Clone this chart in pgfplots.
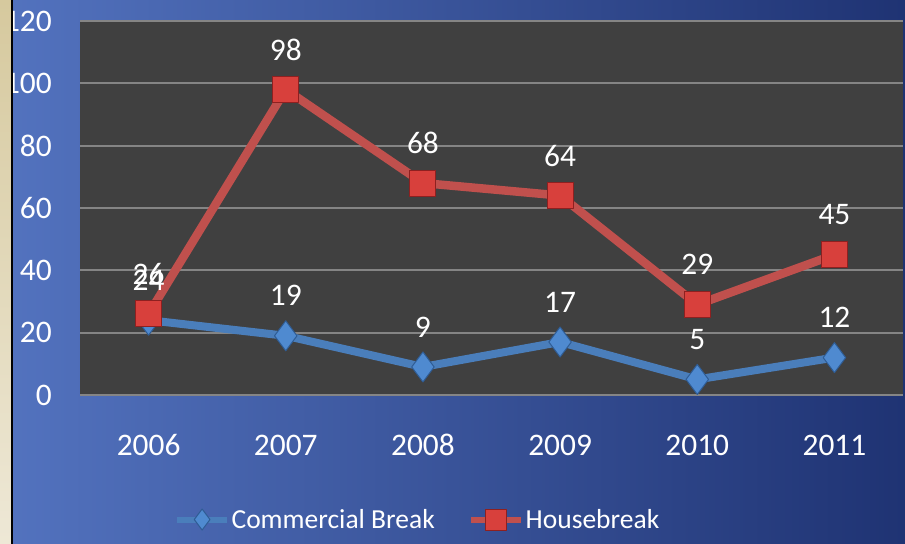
\documentclass[border=0pt]{standalone}
\usepackage{fontspec}
\setmainfont{Carlito}
\usepackage{pgfplots}
\pgfplotsset{compat=1.18}
\definecolor{bgL}{HTML}{5373BF}
\definecolor{bgR}{HTML}{1F3373}
\definecolor{plotbg}{HTML}{404040}
\definecolor{gridc}{HTML}{858585}
\definecolor{blueS}{HTML}{4A7EBB}
\definecolor{blueF}{HTML}{4F8AD0}
\definecolor{blueD}{HTML}{2F5C94}
\definecolor{redS}{HTML}{C0504D}
\definecolor{redF}{HTML}{D8403C}
\definecolor{redD}{HTML}{8E2020}
\definecolor{beigeT}{HTML}{D6C99E}
\definecolor{beigeB}{HTML}{EEE8D6}
\begin{document}
\begin{tikzpicture}[x=1bp,y=1bp]
\shade[left color=bgL, right color=bgR] (0,0) rectangle (905,544);
\begin{axis}[
  at={(80bp,149bp)}, anchor=south west,
  scale only axis, width=823bp, height=374bp,
  xmin=-0.5, xmax=5.5, ymin=0, ymax=120,
  xtick={0,1,2,3,4,5}, xticklabels={2006,2007,2008,2009,2010,2011},
  ytick={0,20,40,60,80,100,120},
  axis background/.style={fill=plotbg},
  axis line style={draw=none},
  ymajorgrids, major grid style={draw=gridc, line width=2.2bp},
  tick style={draw=none},
  /pgf/number format/assume math mode=true,
  ticklabel style={font=\fontsize{31.5}{33}\selectfont, text=white},
  xticklabel style={anchor=center, yshift=-50bp},
  yticklabel style={anchor=east, inner sep=0pt, xshift=-28bp},
  nodes near coords,
  nodes near coords style={anchor=center, yshift=40bp, text=white, font=\fontsize{31.5}{33}\selectfont},
  legend columns=2,
  legend style={at={(0.410,-0.333)}, anchor=center, fill=none, draw=none,
    text=white, font=\fontsize{27.6}{30}\selectfont,
    nodes={inner xsep=1.5bp},
    /tikz/every even column/.append style={column sep=32bp},
    /tikz/every odd column/.append style={column sep=0bp}},
  legend image code/.code={\draw[mark repeat=2,mark phase=2,#1,line width=6bp,mark size=10.5bp] plot coordinates {(0bp,0bp) (25bp,0bp) (50bp,0bp)};},
]
\addplot[blueS, line width=8bp, line join=round, mark=diamond*, mark size=15bp,
  mark options={fill=blueF, draw=blueD, line width=1bp, solid}]
  coordinates {(0,24) (1,19) (2,9) (3,17) (4,5) (5,12)};
\addlegendentry{Commercial Break}
\addplot[redS, line width=8.5bp, line join=round, mark=square*, mark size=13bp,
  mark options={fill=redF, draw=redD, line width=1bp, solid}]
  coordinates {(0,26) (1,98) (2,68) (3,64) (4,29) (5,45)};
\addlegendentry{Housebreak}
\end{axis}
\shade[top color=beigeT, bottom color=beigeB] (0,0) rectangle (11,544);
\fill[black] (11,0) rectangle (12.5,544);
\pgfresetboundingbox
\useasboundingbox (0,0) rectangle (905,544);
\end{tikzpicture}
\end{document}
